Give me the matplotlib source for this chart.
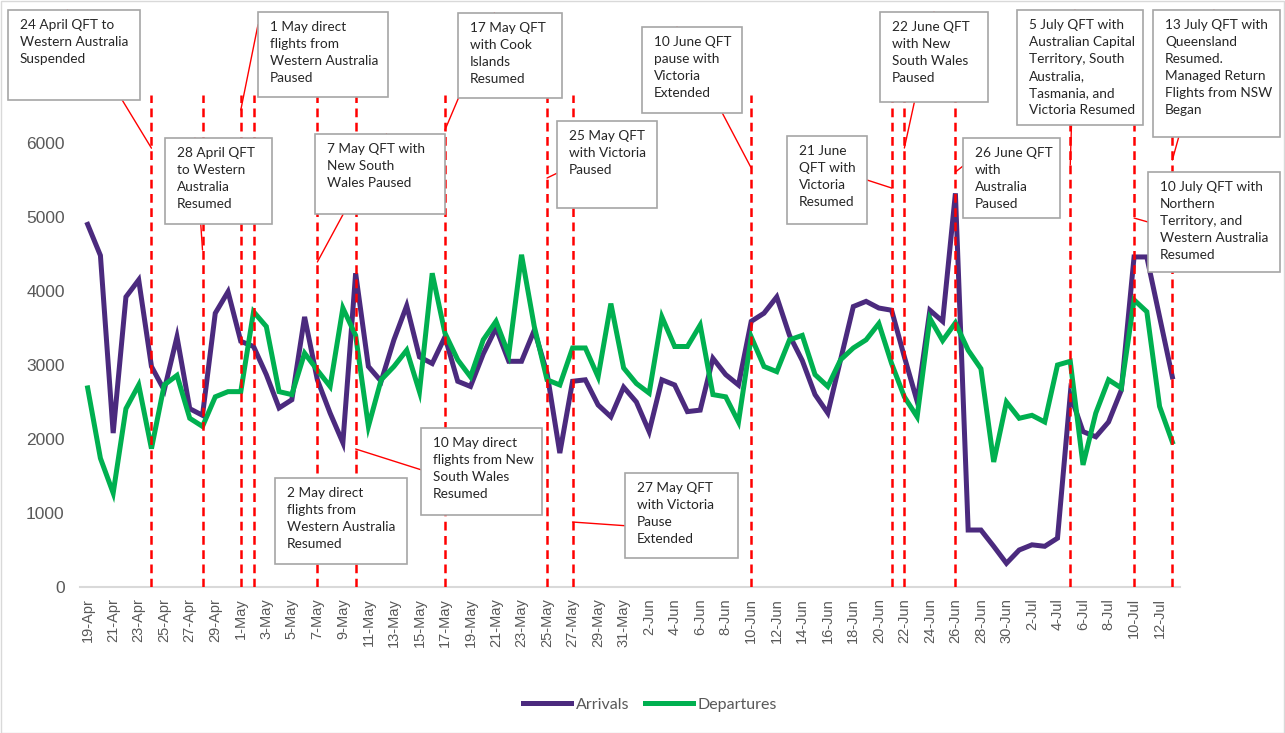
import pandas as pd
import matplotlib
matplotlib.use("Agg")
import matplotlib.pyplot as plt
from matplotlib.patches import Rectangle, ConnectionPatch
from matplotlib.lines import Line2D

# daily passengers, 19 Apr - 13 Jul
dates = pd.date_range("2020-04-19", "2020-07-13", freq="D")
date_labels = [f"{d.day}-{d.strftime('%b')}" for d in dates]

arrivals = [4900, 4480, 2080, 3920, 4150, 2980, 2660, 3380, 2410, 2320,
            3700, 3990, 3320, 3250, 2870, 2420, 2530, 3650, 2800, 2350,
            1950, 4240, 2980, 2780, 3340, 3800, 3110, 3020, 3380, 2780,
            2710, 3150, 3500, 3050, 3050, 3470, 2890, 1810, 2780, 2800,
            2460, 2300, 2700, 2500, 2100, 2800, 2730, 2370, 2390, 3090,
            2870, 2730, 3590, 3700, 3920, 3400, 3060, 2600, 2350, 3070,
            3790, 3860, 3770, 3740, 3110, 2510, 3740, 3590, 5320, 770,
            770, 550, 320, 500, 570, 550, 660, 2600, 2100, 2030,
            2230, 2660, 4460, 4460, 3650, 2840]

departures = [2690, 1740, 1270, 2410, 2730, 1870, 2730, 2860, 2280, 2170,
              2570, 2640, 2640, 3720, 3520, 2640, 2600, 3160, 2930, 2710,
              3770, 3400, 2170, 2800, 2980, 3200, 2640, 4240, 3430, 3070,
              2840, 3340, 3590, 3140, 4490, 3520, 2800, 2730, 3230, 3230,
              2840, 3830, 2960, 2750, 2620, 3650, 3250, 3250, 3540, 2600,
              2570, 2230, 3380, 2980, 2910, 3340, 3400, 2870, 2710, 3070,
              3230, 3340, 3560, 3020, 2570, 2300, 3630, 3330, 3570, 3200,
              2950, 1690, 2500, 2280, 2320, 2230, 3000, 3050, 1650, 2350,
              2800, 2690, 3880, 3720, 2440, 1960]

# event dates (red dashed lines) and their notes
event_dates = ["2020-04-24", "2020-04-28", "2020-05-01", "2020-05-02",
               "2020-05-07", "2020-05-10", "2020-05-17", "2020-05-25",
               "2020-05-27", "2020-06-10", "2020-06-21", "2020-06-22",
               "2020-06-26", "2020-07-05", "2020-07-10", "2020-07-13"]
event_notes = [
    "24 April QFT to\nWestern Australia\nSuspended",
    "28 April QFT\nto Western\nAustralia\nResumed",
    "1 May direct\nflights from\nWestern Australia\nPaused",
    "2 May direct\nflights from\nWestern Australia\nResumed",
    "7 May QFT with\nNew South\nWales Paused",
    "10 May direct\nflights from New\nSouth Wales\nResumed",
    "17 May QFT\nwith Cook\nIslands\nResumed",
    "25 May QFT\nwith Victoria\nPaused",
    "27 May QFT\nwith Victoria\nPause\nExtended",
    "10 June QFT\npause with\nVictoria\nExtended",
    "21 June\nQFT with\nVictoria\nResumed",
    "22 June QFT\nwith New\nSouth Wales\nPaused",
    "26 June QFT\nwith\nAustralia\nPaused",
    "5 July QFT with\nAustralian Capital\nTerritory, South\nAustralia,\nTasmania, and\nVictoria Resumed",
    "10 July QFT with\nNorthern\nTerritory, and\nWestern Australia\nResumed",
    "13 July QFT with\nQueensland\nResumed.\nManaged Return\nFlights from NSW\nBegan",
]

# layout of the note boxes (pixels, top-left origin), leader end height, leader start on box
note_boxes = [(8, 10, 140, 100), (165, 138, 272, 224), (258, 12, 388, 97),
              (275, 478, 407, 564), (315, 134, 445, 214), (421, 428, 542, 515),
              (458, 13, 562, 98), (557, 121, 657, 208), (625, 473, 738, 558),
              (642, 27, 742, 113), (787, 136, 867, 224), (880, 12, 988, 102),
              (963, 138, 1060, 218), (1017, 10, 1143, 125), (1148, 172, 1280, 272),
              (1153, 10, 1280, 137)]
leader_y = [5930, 4554, 6446, None, 4392, 1865, 6176, 5527, 878, 5662,
            5392, 5932, 5608, 5703, 4986, 5770]
leader_rel = [(0.45, 1), (0.28, 1), (0, 0.85), None, (0.55, 1), (0, 0.52),
              (0.35, 1), (0, 0.4), (0, 0.38), (0.35, 1), (1, 0.5), (0.5, 1),
              (0, 0.65), (0.46, 1), (0, 0.5), (0.48, 1)]

W, H = 1285, 733
PURPLE = "#4B2A7E"
GREEN = "#00B050"
GREY = "#595959"

fig = plt.figure(figsize=(W / 100, H / 100), dpi=100)
ax = fig.add_axes([80 / W, 1 - 587 / H, 1100 / W, 518 / H])

x = list(range(len(dates)))
ax.plot(x, arrivals, color=PURPLE, lw=3.6, solid_joinstyle="miter", zorder=2)
ax.plot(x, departures, color=GREEN, lw=3.6, solid_joinstyle="miter", zorder=2)

event_idx = [dates.get_loc(pd.Timestamp(d)) for d in event_dates]
ax.vlines(event_idx, 0, 6650, colors="red", linestyles=(0, (3.5, 2.2)), lw=1.8, zorder=3)

ax.set_xlim(-0.6, len(dates) - 0.4)
ax.set_ylim(0, 7000)
ax.set_yticks(range(0, 7000, 1000))
ax.set_xticks(x[::2])
ax.set_xticklabels(date_labels[::2], rotation=90, fontsize=10.5, color=GREY,
                   family="Liberation Sans")
for lab in ax.get_yticklabels():
    lab.set_fontsize(12.5)
    lab.set_color(GREY)
    lab.set_family("Liberation Sans")
ax.tick_params(length=0, pad=8)
ax.tick_params(axis="y", pad=11)
for s in ["top", "right", "left"]:
    ax.spines[s].set_visible(False)
ax.spines["bottom"].set_color("#d9d9d9")
ax.spines["bottom"].set_linewidth(1.5)

# note boxes with leaders to the dashed lines
for note, box, ly, rel, xi in zip(event_notes, note_boxes, leader_y, leader_rel, event_idx):
    x0, y0, x1, y1 = box
    fig.add_artist(Rectangle((x0 / W, 1 - y1 / H), (x1 - x0) / W, (y1 - y0) / H,
                             transform=fig.transFigure, facecolor="white",
                             edgecolor="#a6a6a6", lw=1.2, zorder=5))
    fig.text((x0 + 12) / W, 1 - (y0 + 9) / H, note, va="top", ha="left",
             fontsize=9.8, family="Lato", linespacing=1.5, color="#262626", zorder=6)
    if ly is not None:
        px = x0 + rel[0] * (x1 - x0)
        py = H - (y1 - rel[1] * (y1 - y0))
        con = ConnectionPatch(xyA=(px, py), coordsA="figure pixels",
                              xyB=(xi, ly), coordsB="data", axesB=ax,
                              color="red", lw=1, zorder=4)
        fig.add_artist(con)

handles = [Line2D([], [], color=PURPLE, lw=3.6), Line2D([], [], color=GREEN, lw=3.6)]
fig.legend(handles, ["Arrivals", "Departures"], loc="center",
           bbox_to_anchor=(650 / W, 1 - 705 / H), ncol=2, frameon=False,
           prop={"family": "Lato", "size": 11.5}, labelcolor=GREY,
           handlelength=3.0, columnspacing=1.0, handletextpad=0.3)

fig.add_artist(Rectangle((0.5 / W, 0.5 / H), 1 - 1.5 / W, 1 - 1.5 / H,
                         transform=fig.transFigure, fill=False,
                         edgecolor="#d9d9d9", lw=1))

fig.savefig("out.png", dpi=100)
